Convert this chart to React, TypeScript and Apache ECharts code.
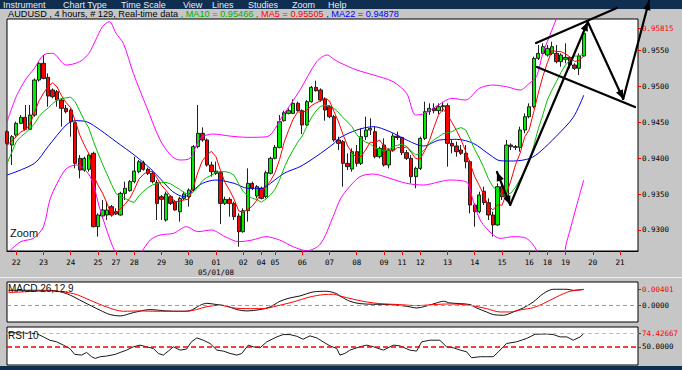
import React, { useEffect, useRef } from 'react';
import * as echarts from 'echarts';

// ---------- DATA ----------
// 4-hour candles: [open, close, low, high]
const candles: number[][] = [
  [0.94371, 0.94208, 0.94185, 0.94394], [0.94185, 0.94301, 0.93906, 0.94324], [0.94324, 0.94487, 0.94301, 0.9451], [0.94487, 0.94571, 0.94478, 0.94603],
  [0.94571, 0.94403, 0.94394, 0.94743], [0.94403, 0.94603, 0.94394, 0.94743], [0.94603, 0.95091, 0.9458, 0.95114], [0.95091, 0.95324, 0.95068, 0.95347],
  [0.95324, 0.95114, 0.95101, 0.9544], [0.95128, 0.94868, 0.94719, 0.95184], [0.94952, 0.94859, 0.94836, 0.94975], [0.94929, 0.94812, 0.94719, 0.94952],
  [0.94812, 0.94696, 0.94441, 0.94836], [0.94696, 0.9465, 0.94626, 0.94743], [0.94673, 0.9451, 0.94301, 0.94696], [0.94496, 0.93929, 0.93859, 0.9451],
  [0.93999, 0.93836, 0.9372, 0.94045], [0.93836, 0.93999, 0.93813, 0.94022], [0.93846, 0.94045, 0.93813, 0.94069], [0.94069, 0.93046, 0.93037, 0.94092],
  [0.93046, 0.93209, 0.92907, 0.93232], [0.93195, 0.93279, 0.93162, 0.93418], [0.93209, 0.93279, 0.93139, 0.93395], [0.93325, 0.93209, 0.93186, 0.93348],
  [0.93255, 0.93223, 0.93209, 0.93302], [0.93209, 0.93511, 0.932, 0.93534], [0.93511, 0.93581, 0.93418, 0.93674], [0.93548, 0.93674, 0.93534, 0.93697],
  [0.93674, 0.93822, 0.9365, 0.94022], [0.93813, 0.93952, 0.9379, 0.93976], [0.93939, 0.93846, 0.93827, 0.93966], [0.93846, 0.9379, 0.93767, 0.93869],
  [0.9379, 0.93674, 0.9365, 0.93813], [0.9366, 0.93371, 0.93139, 0.93697], [0.93464, 0.93427, 0.93139, 0.93488], [0.93139, 0.93502, 0.93116, 0.93534],
  [0.93464, 0.93371, 0.93348, 0.93488], [0.93395, 0.93279, 0.93269, 0.93418], [0.93255, 0.93441, 0.93116, 0.93464], [0.93441, 0.93502, 0.93418, 0.93534],
  [0.93464, 0.93557, 0.93325, 0.93581], [0.93557, 0.94162, 0.93534, 0.94185], [0.94162, 0.94348, 0.94138, 0.94743], [0.94348, 0.94255, 0.94231, 0.94431],
  [0.94255, 0.93906, 0.93883, 0.94278], [0.93906, 0.93813, 0.93743, 0.93952], [0.93822, 0.9379, 0.93767, 0.93952], [0.93799, 0.93371, 0.93083, 0.93813],
  [0.93371, 0.93427, 0.93348, 0.93464], [0.93427, 0.93371, 0.93186, 0.93455], [0.93371, 0.93186, 0.93139, 0.93395], [0.93195, 0.92976, 0.92767, 0.93232],
  [0.92976, 0.93269, 0.92962, 0.93302], [0.93269, 0.9365, 0.93116, 0.93859], [0.9365, 0.93581, 0.93557, 0.93674], [0.93474, 0.93604, 0.93441, 0.93627],
  [0.93581, 0.93441, 0.93427, 0.93604], [0.93464, 0.93799, 0.93441, 0.93827], [0.9379, 0.93999, 0.93776, 0.94022], [0.93999, 0.94152, 0.93985, 0.94185],
  [0.94152, 0.9451, 0.94138, 0.94603], [0.94524, 0.94636, 0.9451, 0.94664], [0.94626, 0.94664, 0.94612, 0.94696], [0.94626, 0.94766, 0.94617, 0.94822],
  [0.94766, 0.94664, 0.9465, 0.94789], [0.94664, 0.94464, 0.94338, 0.94682], [0.94464, 0.94789, 0.9445, 0.94812], [0.94789, 0.94989, 0.94775, 0.95008],
  [0.94989, 0.94942, 0.94929, 0.95082], [0.94952, 0.94812, 0.94789, 0.94975], [0.94822, 0.94673, 0.94524, 0.9485], [0.94719, 0.9458, 0.94557, 0.94743],
  [0.9458, 0.94255, 0.94231, 0.94603], [0.94255, 0.94208, 0.94115, 0.94301], [0.94231, 0.93929, 0.93604, 0.94255], [0.93929, 0.93883, 0.93836, 0.94069],
  [0.9385, 0.94092, 0.93813, 0.94138], [0.94092, 0.93929, 0.93883, 0.94185], [0.93929, 0.94301, 0.93906, 0.94417], [0.94301, 0.94394, 0.94255, 0.9458],
  [0.94394, 0.94417, 0.94324, 0.94557], [0.94371, 0.94022, 0.93999, 0.94441], [0.94022, 0.94138, 0.93999, 0.94162], [0.94185, 0.93906, 0.93883, 0.94278],
  [0.93906, 0.94115, 0.93859, 0.94138], [0.94115, 0.9431, 0.94092, 0.94348], [0.9431, 0.9429, 0.94255, 0.94371], [0.9429, 0.94078, 0.94045, 0.94301],
  [0.94078, 0.93999, 0.93976, 0.94115], [0.93999, 0.93743, 0.9365, 0.94045], [0.93743, 0.93859, 0.93581, 0.93883], [0.93859, 0.94278, 0.93836, 0.94301],
  [0.94278, 0.9465, 0.94255, 0.94789], [0.9465, 0.94696, 0.94603, 0.94766], [0.94696, 0.94664, 0.94626, 0.94766], [0.94664, 0.94719, 0.94617, 0.94766],
  [0.94719, 0.94733, 0.9465, 0.94789], [0.94733, 0.94208, 0.93883, 0.94766], [0.94208, 0.94171, 0.94069, 0.94255], [0.94171, 0.94092, 0.94022, 0.94231],
  [0.94115, 0.94069, 0.94045, 0.94185], [0.94069, 0.93952, 0.93859, 0.94185], [0.93952, 0.93348, 0.93232, 0.93976], [0.93348, 0.93255, 0.93046, 0.93371],
  [0.93255, 0.93488, 0.93232, 0.93534], [0.9354, 0.93381, 0.93348, 0.93604], [0.93381, 0.93209, 0.93139, 0.93441], [0.93209, 0.9307, 0.92907, 0.93255],
  [0.9307, 0.93604, 0.9306, 0.9365], [0.93604, 0.93464, 0.93418, 0.93674], [0.93464, 0.94185, 0.93441, 0.94255], [0.94185, 0.94162, 0.94115, 0.94208],
  [0.94162, 0.94152, 0.94115, 0.94185], [0.94152, 0.94394, 0.94092, 0.94441], [0.94394, 0.9458, 0.94348, 0.94626], [0.9458, 0.94719, 0.94557, 0.94766],
  [0.94719, 0.95393, 0.94696, 0.95417], [0.95393, 0.95463, 0.9537, 0.95579], [0.95463, 0.95556, 0.9544, 0.95603], [0.9544, 0.95533, 0.95417, 0.95579],
  [0.95463, 0.95556, 0.9544, 0.95626], [0.95463, 0.95347, 0.95324, 0.9558], [0.95347, 0.9544, 0.95277, 0.95463], [0.9538, 0.95407, 0.95324, 0.95603],
  [0.95407, 0.953, 0.95254, 0.95417], [0.953, 0.95254, 0.95231, 0.95324], [0.95254, 0.95426, 0.95161, 0.95463], [0.95426, 0.95742, 0.95417, 0.95788],
];

const ma5: number[] = [
  0.9418, 0.9424, 0.943, 0.9437, 0.94394, 0.94473, 0.94631, 0.94798, 0.94907, 0.95, 0.95051, 0.94995, 0.9487, 0.94777, 0.94705, 0.94519,
  0.94324, 0.94185, 0.94064, 0.93771, 0.93627, 0.93516, 0.93372, 0.93204, 0.9324, 0.933, 0.93361, 0.9344, 0.93562, 0.93708, 0.93775, 0.93817,
  0.93817, 0.93727, 0.93622, 0.93553, 0.93469, 0.9339, 0.93404, 0.93419, 0.9343, 0.93588, 0.93802, 0.93965, 0.94046, 0.94097, 0.94022, 0.93827,
  0.93661, 0.93554, 0.93429, 0.93266, 0.93246, 0.9329, 0.93332, 0.93416, 0.93509, 0.93615, 0.93685, 0.93799, 0.9398, 0.94219, 0.94392, 0.94546,
  0.94648, 0.94639, 0.94669, 0.94734, 0.9477, 0.94799, 0.94841, 0.94799, 0.94652, 0.94506, 0.94329, 0.94171, 0.94073, 0.94008, 0.94027, 0.9412,
  0.94227, 0.94213, 0.94254, 0.94175, 0.9412, 0.94098, 0.94152, 0.9414, 0.94158, 0.94084, 0.93994, 0.93991, 0.94106, 0.94245, 0.94429, 0.94601,
  0.94692, 0.94604, 0.94499, 0.94385, 0.94255, 0.94098, 0.93926, 0.93743, 0.93622, 0.93485, 0.93336, 0.93281, 0.9335, 0.93346, 0.93506, 0.93697,
  0.93913, 0.94071, 0.94295, 0.94401, 0.94648, 0.9491, 0.95142, 0.95333, 0.955, 0.95491, 0.95486, 0.95457, 0.9541, 0.9535, 0.95365, 0.95426,
];

const ma10: number[] = [
  0.9393, 0.9408, 0.9423, 0.943, 0.9435, 0.9441, 0.9448, 0.9458, 0.9465, 0.94697, 0.94762, 0.94813, 0.94834, 0.94842, 0.94853, 0.94785,
  0.9466, 0.94528, 0.94421, 0.94238, 0.94073, 0.9392, 0.93779, 0.93634, 0.93506, 0.93464, 0.93439, 0.93406, 0.93383, 0.93474, 0.93538, 0.93589,
  0.93629, 0.93645, 0.93665, 0.93664, 0.93643, 0.93604, 0.93566, 0.93521, 0.93492, 0.93529, 0.93596, 0.93685, 0.93733, 0.93764, 0.93805, 0.93815,
  0.93813, 0.938, 0.93763, 0.93644, 0.93537, 0.93476, 0.93443, 0.93423, 0.93388, 0.93431, 0.93488, 0.93566, 0.93698, 0.93864, 0.94004, 0.94116,
  0.94224, 0.9431, 0.94444, 0.94563, 0.94658, 0.94724, 0.9474, 0.94734, 0.94693, 0.94638, 0.94564, 0.94506, 0.94436, 0.9433, 0.94267, 0.94225,
  0.94199, 0.94143, 0.94131, 0.94101, 0.9412, 0.94163, 0.94183, 0.94197, 0.94167, 0.94102, 0.94046, 0.94072, 0.94123, 0.94202, 0.94257, 0.94298,
  0.94342, 0.94355, 0.94372, 0.94407, 0.94428, 0.94395, 0.94265, 0.94121, 0.94004, 0.9387, 0.93717, 0.93604, 0.93547, 0.93484, 0.93496, 0.93517,
  0.93597, 0.93711, 0.93821, 0.93954, 0.94173, 0.94412, 0.94607, 0.94814, 0.94951, 0.9507, 0.95198, 0.953, 0.95372, 0.95425, 0.95428, 0.95456,
];

// [bar index, value] pairs
const ma22: number[][] = [
  [0, 0.93767], [6, 0.93929], [9, 0.94162], [13, 0.94464], [15, 0.94524], [17.5, 0.9451], [20.5, 0.94394], [24, 0.94231], [28, 0.94045],
  [31.5, 0.93859], [34, 0.93697], [36.5, 0.93534], [39, 0.93464], [41, 0.93557], [43, 0.9365], [46, 0.93697], [50, 0.9365], [53, 0.93581],
  [56, 0.93581], [57, 0.93604], [61, 0.9379], [64.5, 0.93883], [68, 0.94022], [72, 0.94208], [73.3, 0.94287], [77, 0.94394], [80.7, 0.94441],
  [84.3, 0.94371], [88, 0.94255], [91.7, 0.94171], [95.3, 0.94255], [99, 0.94264], [102.7, 0.94208], [106.4, 0.94045], [108.6, 0.93966],
  [111.5, 0.93962], [115.2, 0.93999], [117.4, 0.94092], [121, 0.9431], [124.7, 0.94571], [127, 0.94878],
];
const bollUpper: number[][] = [
  [0, 0.9451], [2, 0.94859], [4, 0.95091], [6, 0.95254], [8, 0.9544], [10, 0.95463], [13, 0.953], [16, 0.95347], [18, 0.95463], [19.5, 0.95649],
  [21, 0.95835], [22.5, 0.95905], [24, 0.95742], [25.6, 0.95603], [27.8, 0.95184], [30.7, 0.94719], [33.7, 0.94255], [36, 0.94045], [38, 0.93976],
  [40.3, 0.93999], [42.5, 0.94278], [45.4, 0.94338], [49, 0.9431], [53, 0.94292], [57.2, 0.94301], [60.8, 0.94603], [64.5, 0.94952], [68.2, 0.95347],
  [70.5, 0.9544], [72, 0.95379], [73.3, 0.95333], [77, 0.95231], [80.7, 0.95161], [85, 0.95068], [88, 0.94905], [90, 0.94603], [92, 0.94626],
  [95, 0.94743], [98, 0.94836], [101, 0.94812], [104, 0.94975], [107, 0.95021], [110, 0.94998], [113, 0.94952], [115, 0.95045], [116.6, 0.95138],
  [118, 0.95463], [120, 0.95788], [122, 0.96114],
];
const bollLower: number[][] = [
  [0, 0.92674], [3, 0.92837], [5.8, 0.92883], [8, 0.93046], [9.4, 0.93418], [11, 0.9365], [13.1, 0.93859], [15.3, 0.93906], [18.3, 0.93743],
  [20.5, 0.93279], [22.7, 0.9286], [23.8, 0.92697], [25, 0.92581], [27, 0.92581], [29.3, 0.92674], [31.5, 0.9286], [33.7, 0.9293], [36.6, 0.92953],
  [39.5, 0.93046], [42, 0.92977], [45, 0.93], [48, 0.92907], [51, 0.92837], [54, 0.9286], [57, 0.92907], [60, 0.9286], [63, 0.92767], [66, 0.92711],
  [69, 0.92804], [71.8, 0.93186], [73.3, 0.93418], [74.8, 0.93557], [77.7, 0.93743], [80.7, 0.9378], [84.3, 0.9372], [88, 0.9365], [91.7, 0.93627],
  [95.3, 0.93674], [97.5, 0.93697], [100.5, 0.93683], [101.5, 0.9365], [102.7, 0.93395], [104.2, 0.93139], [105.6, 0.93023], [107.1, 0.9293],
  [108.6, 0.92883], [111.5, 0.92907], [114.4, 0.92883], [116.6, 0.92721], [118, 0.92442], [120, 0.92116], [122, 0.92302], [123, 0.92763],
  [124, 0.93], [125, 0.93237], [126, 0.93466], [127, 0.93697],
];
const macdLine: number[][] = [
  [0.3, 0.00377], [9.4, 0.00377], [13.1, 0.00295], [16.8, 0.0009], [20.5, -0.00115], [22.7, -0.00221], [24.9, -0.00254], [27.8, -0.00172],
  [31.5, -0.00098], [35.1, -0.00131], [38.1, -0.00139], [40.3, -0.00123], [42.5, 0.00008], [44, 0.00057], [46.2, 0.00025], [48.4, -0.00008],
  [50.6, -0.00098], [52.8, -0.00131], [55.7, -0.00098], [57.9, -0.00033], [60.1, 0.00107], [62.3, 0.00189], [64.5, 0.00238], [67.4, 0.00336],
  [70.4, 0.00353], [72.6, 0.00295], [73.3, 0.00238], [75.5, 0.00107], [77.7, 0.00049], [80.7, 0.00033], [84.3, 0.00025], [88, -0.00016],
  [90.2, -0.00057], [92.4, -0.00008], [94.6, 0.00066], [96.1, 0.00107], [97.5, 0.00066], [99.8, 0.00049], [102, 0.00025], [103.4, -0.00057],
  [105.6, -0.00156], [107.1, -0.00221], [109.3, -0.00238], [111.5, -0.00156], [113.7, -0.00057], [115.9, 0.0009], [118.1, 0.00295],
  [120.3, 0.00402], [123.3, 0.00402], [124.7, 0.00377], [127, 0.00401],
];
const macdSignal: number[][] = [
  [0.3, 0.0032], [9.4, 0.00361], [14.6, 0.00295], [18.3, 0.00131], [21.9, -0.00033], [25.6, -0.00139], [29.3, -0.00131], [32.9, -0.00139],
  [36.6, -0.00139], [39.5, -0.00139], [41.7, -0.00098], [44, -0.00025], [46.9, 0.00008], [49.8, -0.00057], [52.8, -0.00074], [56.4, -0.00074],
  [59.4, -0.00008], [63, 0.0009], [66.7, 0.00213], [69.7, 0.00271], [71.9, 0.00279], [73.3, 0.00238], [76.3, 0.00156], [79.2, 0.0009],
  [82.1, 0.00049], [86.5, 0.00025], [90.2, 0], [93.9, 0.00025], [97.5, 0.00041], [100.5, 0.00025], [102.7, -0.00008], [105.6, -0.00074],
  [108.6, -0.00156], [110.8, -0.00156], [113, -0.00107], [115.9, -0.00049], [118.1, 0.00049], [121, 0.00213], [124, 0.00353], [126.2, 0.00385],
  [127, 0.00395],
];
const rsiLine: number[][] = [
  [0.3, 76.3], [6.5, 74.4], [8, 68.3], [9.4, 62.2], [10.9, 59.2], [12.4, 53.1], [13.8, 46.9], [14.9, 36.0], [16.4, 34.7], [17.5, 39.6],
  [18.6, 31.7], [19.4, 28.6], [20.5, 31.7], [21.9, 32.9], [23.8, 36.0], [24.9, 39.6], [26.3, 43.9], [27.8, 50.0], [29.3, 53.1], [30.7, 50.0],
  [32.2, 46.9], [33.3, 37.8], [34.4, 34.7], [35.5, 42.1], [36.6, 50.0], [38.1, 43.9], [39.5, 45.7], [40.6, 59.2], [41.8, 66.5], [43.2, 62.2],
  [44.7, 56.1], [46.2, 43.9], [47.6, 42.1], [49.1, 37.8], [50.6, 34.7], [51.7, 37.8], [53.1, 53.1], [54.2, 50.0], [55.7, 48.2], [57.2, 59.2],
  [59.4, 68.3], [60.8, 72.6], [62.3, 72.6], [63.8, 69.5], [65.2, 64.0], [66.7, 70.2], [68.2, 66.5], [69.6, 59.2], [71.1, 51.8], [72.6, 46.9],
  [73.3, 34.7], [74.4, 37.8], [75.5, 43.9], [77.7, 50.0], [79.2, 53.1], [80.7, 50.0], [82.9, 43.9], [85.1, 53.1], [86.5, 51.8], [88.7, 43.9],
  [90.2, 42.1], [91.3, 59.2], [93.1, 62.2], [95.3, 62.2], [96.8, 50.0], [98.3, 48.2], [99.8, 43.9], [101.2, 40.8], [102.3, 29.8], [104.2, 31.7],
  [105.6, 31.7], [107.1, 31.7], [108.2, 40.8], [109.3, 50.0], [110, 56.1], [112.2, 59.2], [114.4, 65.3], [116.3, 73.2], [118.8, 73.8],
  [120.3, 72.6], [121.8, 68.3], [123.3, 68.3], [124.7, 62.2], [126.2, 68.3], [127, 74.4],
];

const dayLabels = ['22', '23', '24', '25', '27', '28', '29', '30', '01', '02', '04', '05', '06', '07', '08', '09', '11', '12', '13', '14', '15', '16', '18', '19', '20', '21'];
const dayStartIdx = [2, 8, 14, 20, 24, 28, 34, 40, 46, 52, 56, 59, 65, 71, 77, 83, 87, 91, 97, 103, 109, 115, 119, 123, 129, 135];
const monthLabel = '05/01/08';
const priceTicks = [0.93, 0.935, 0.94, 0.945, 0.95, 0.955];
const priceLevel = 0.95815;
const macdLevels = [0, 0.00401];
const macdTopLevel = 0.00443;
const rsiLevels = [50, 74.42667];

// drawn trend lines and arrows, as [bar index, price]
const wedgeLines: number[][][] = [
  [[116.5, 0.95607], [134.3, 0.96095]],
  [[116.7, 0.95273], [138.3, 0.94715]],
];
const arrowPath: number[][] = [
  [107.9, 0.93809], [110.8, 0.93349], [127.9, 0.959], [135.7, 0.94827], [141.4, 0.96193],
];

const menuItems = ['Instrument', 'Chart Type', 'Time Scale', 'View', 'Lines', 'Studies', 'Zoom', 'Help'];
const menuX = [3, 63, 121, 183, 212, 248, 292, 328];

// ---------- CHART ----------
const MONO = 'DejaVu Sans Mono';
const SANS = 'Liberation Sans';
const X_MIN = -0.03;
const X_MAX = 138.96;

function buildOption(): any {
  const gridBase = { left: 7, right: 44, show: true, backgroundColor: '#ffffff', borderColor: '#000000', borderWidth: 1 };
  const hiddenX = (g: number) => ({ type: 'value', gridIndex: g, min: X_MIN, max: X_MAX, show: false });
  const lbl = { fontFamily: MONO, fontSize: 7.5 };
  return {
    animation: false,
    backgroundColor: '#c6c6c6',
    grid: [
      { ...gridBase, top: 19, height: 232 },
      { ...gridBase, top: 282, height: 40 },
      { ...gridBase, top: 327, height: 38 },
    ],
    xAxis: [
      {
        type: 'value', gridIndex: 0, min: X_MIN, max: X_MAX,
        axisLine: { show: true, onZero: false, lineStyle: { color: '#000', width: 1 } },
        axisTick: { show: true, customValues: dayStartIdx, length: 4, inside: false, lineStyle: { color: '#ff0000' } },
        axisLabel: {
          show: true, customValues: dayStartIdx, margin: 6, color: '#000', ...lbl, lineHeight: 10,
          formatter: (v: number) => {
            const k = dayStartIdx.indexOf(Math.round(v));
            if (k < 0) return '';
            return dayLabels[k] === '01' ? '01\n' + monthLabel : dayLabels[k];
          },
        },
        splitLine: { show: false },
      },
      hiddenX(1),
      hiddenX(2),
    ],
    yAxis: [
      {
        type: 'value', gridIndex: 0, position: 'right', min: 0.92707, max: 0.95942,
        axisLine: { show: false, onZero: false },
        axisTick: { show: true, customValues: [...priceTicks, priceLevel], length: 3, lineStyle: { color: '#ff0000' } },
        axisLabel: {
          show: true, customValues: [...priceTicks, priceLevel], margin: 4, ...lbl,
          formatter: (v: number) => (Math.abs(v - priceLevel) < 1e-7 ? '{r|' + priceLevel.toFixed(5) + '}' : '{k|' + v.toFixed(4) + '}'),
          rich: { k: { color: '#000', ...lbl }, r: { color: '#ff0000', ...lbl } },
        },
        splitLine: { show: false },
      },
      {
        type: 'value', gridIndex: 1, position: 'right', min: -0.00403, max: 0.00581,
        axisLine: { show: false, onZero: false },
        axisTick: { show: true, customValues: macdLevels, length: 3, lineStyle: { color: '#ff0000' } },
        axisLabel: {
          show: true, customValues: macdLevels, margin: 4, ...lbl,
          formatter: (v: number) => (Math.abs(v) < 1e-9 ? '{k|0.0000}' : '{r|' + v.toFixed(5) + '}'),
          rich: { k: { color: '#000', ...lbl }, r: { color: '#ff0000', ...lbl } },
        },
        splitLine: { show: false },
      },
      {
        type: 'value', gridIndex: 2, position: 'right', min: 16.4, max: 86.6,
        axisLine: { show: false, onZero: false },
        axisTick: { show: true, customValues: rsiLevels, length: 3, lineStyle: { color: '#ff0000' } },
        axisLabel: {
          show: true, customValues: rsiLevels, margin: 4, ...lbl,
          formatter: (v: number) => (Math.abs(v - 50) < 1e-9 ? '{k|50.0000}' : '{r|' + v.toFixed(5) + '}'),
          rich: { k: { color: '#000', ...lbl }, r: { color: '#ff0000', ...lbl } },
        },
        splitLine: { show: false },
      },
    ],
    series: [
      {
        type: 'candlestick', xAxisIndex: 0, yAxisIndex: 0, barWidth: 3.8, clip: true,
        data: candles.map((c, i) => [i, c[0], c[1], c[2], c[3]]),
        itemStyle: { color: '#00ee00', color0: '#ff0000', borderColor: '#202020', borderColor0: '#202020', borderWidth: 1 },
        z: 2,
      },
      { type: 'line', name: 'upper', xAxisIndex: 0, yAxisIndex: 0, data: bollUpper, smooth: 0.3, showSymbol: false, clip: true, lineStyle: { color: '#ff00ff', width: 1 }, z: 3 },
      { type: 'line', name: 'lower', xAxisIndex: 0, yAxisIndex: 0, data: bollLower, smooth: 0.3, showSymbol: false, clip: true, lineStyle: { color: '#ff00ff', width: 1 }, z: 3 },
      { type: 'line', name: 'MA22', xAxisIndex: 0, yAxisIndex: 0, data: ma22, smooth: 0.3, showSymbol: false, clip: true, lineStyle: { color: '#0000e6', width: 1 }, z: 3 },
      { type: 'line', name: 'MA10', xAxisIndex: 0, yAxisIndex: 0, data: ma10.map((v, i) => [i, v]), showSymbol: false, clip: true, lineStyle: { color: '#00c000', width: 1 }, z: 3 },
      {
        type: 'line', name: 'MA5', xAxisIndex: 0, yAxisIndex: 0, data: ma5.map((v, i) => [i, v]), showSymbol: false, clip: true,
        lineStyle: { color: '#ff0000', width: 1 }, z: 3,
        markLine: {
          silent: true, symbol: ['none', 'none'], label: { show: false },
          lineStyle: { color: '#ff5a78', type: [4, 3], width: 1 },
          data: [{ yAxis: priceLevel }],
        },
      },
      {
        type: 'line', name: 'MACD', xAxisIndex: 1, yAxisIndex: 1, data: macdLine, smooth: 0.3, showSymbol: false,
        lineStyle: { color: '#111111', width: 1 }, z: 3,
        markLine: {
          silent: true, symbol: ['none', 'none'], label: { show: false },
          data: [
            { yAxis: macdTopLevel, lineStyle: { color: '#ff9aaa', type: [4, 3], width: 1 } },
            { yAxis: macdLevels[1], lineStyle: { color: '#ff4060', type: [4, 3], width: 1 } },
            { yAxis: macdLevels[0], lineStyle: { color: '#ff7088', type: [4, 3], width: 1 } },
          ],
        },
      },
      { type: 'line', name: 'Signal', xAxisIndex: 1, yAxisIndex: 1, data: macdSignal, smooth: 0.3, showSymbol: false, lineStyle: { color: '#ff0000', width: 1 }, z: 4 },
      {
        type: 'line', name: 'RSI', xAxisIndex: 2, yAxisIndex: 2, data: rsiLine, showSymbol: false,
        lineStyle: { color: '#1a1a1a', width: 1 }, z: 3,
        markLine: {
          silent: true, symbol: ['none', 'none'], label: { show: false },
          data: [
            { yAxis: rsiLevels[0], lineStyle: { color: '#ee0000', type: [5, 3], width: 1.6 } },
            { yAxis: rsiLevels[1], lineStyle: { color: '#ffa0b0', type: [4, 3], width: 1 } },
          ],
        },
      },
    ],
  };
}

function arrowHead(tip: number[], from: number[], L = 9, W = 3.8): number[][] {
  const dx = tip[0] - from[0];
  const dy = tip[1] - from[1];
  const len = Math.hypot(dx, dy) || 1;
  const ux = dx / len;
  const uy = dy / len;
  const bx = tip[0] - ux * L;
  const by = tip[1] - uy * L;
  return [[tip[0], tip[1]], [bx - uy * W, by + ux * W], [bx + uy * W, by - ux * W]];
}

export default function App() {
  const ref = useRef<HTMLDivElement>(null);
  useEffect(() => {
    if (!ref.current) return;
    const chart = echarts.init(ref.current, null, { renderer: 'svg' });
    chart.setOption(buildOption());

    const toPx = (p: number[]) => [
      chart.convertToPixel({ xAxisIndex: 0 } as any, p[0]) as unknown as number,
      chart.convertToPixel({ yAxisIndex: 0 } as any, p[1]) as unknown as number,
    ];

    const overlay: any[] = [];
    const lineStyle = { stroke: '#000000', lineWidth: 2.2, lineCap: 'round' };
    wedgeLines.forEach((seg) => {
      const a = toPx(seg[0]);
      const b = toPx(seg[1]);
      overlay.push({ type: 'line', z: 100, shape: { x1: a[0], y1: a[1], x2: b[0], y2: b[1] }, style: lineStyle });
    });
    const pts = arrowPath.map(toPx);
    for (let k = 0; k < pts.length - 1; k++) {
      const a = pts[k];
      const b = pts[k + 1];
      overlay.push({ type: 'line', z: 100, shape: { x1: a[0], y1: a[1], x2: b[0], y2: b[1] }, style: lineStyle });
      overlay.push({ type: 'polygon', z: 101, shape: { points: arrowHead(b, a) }, style: { fill: '#000000' } });
    }
    overlay.push({ type: 'polygon', z: 101, shape: { points: arrowHead(pts[0], pts[1]) }, style: { fill: '#000000' } });

    const statics: any[] = [
      { type: 'rect', z: 50, shape: { x: 0, y: 0, width: 682, height: 9 }, style: { fill: '#0f2e50' } },
      { type: 'rect', z: 50, shape: { x: 0, y: 366, width: 682, height: 4 }, style: { fill: '#0f2e50' } },
      { type: 'rect', z: 50, shape: { x: 0, y: 277, width: 682, height: 1 }, style: { fill: '#efefef' } },
      ...menuItems.map((t, i) => ({
        type: 'text', z: 60, x: menuX[i], y: 4.5,
        style: { text: t, fill: '#e6edf5', fontSize: 9, fontFamily: SANS, align: 'left', verticalAlign: 'middle', textAlign: 'left', textVerticalAlign: 'middle' },
      })),
      {
        type: 'text', z: 60, x: 8, y: 13.5,
        style: {
          text: '{k|AUDUSD , 4 hours, # 129, Real-time data }{g|, MA10 = 0.95466 }{r|, MA5 = 0.95505 }{b|, MA22 = 0.94878}',
          fontSize: 9.2, fontFamily: SANS, align: 'left', verticalAlign: 'middle', textAlign: 'left', textVerticalAlign: 'middle',
          rich: {
            k: { fill: '#000000', fontSize: 9.2, fontFamily: SANS },
            g: { fill: '#00b000', fontSize: 9.2, fontFamily: SANS },
            r: { fill: '#ff0000', fontSize: 9.2, fontFamily: SANS },
            b: { fill: '#0000ff', fontSize: 9.2, fontFamily: SANS },
          },
        },
      },
      {
        type: 'text', z: 60, x: 10, y: 233,
        style: { text: 'Zoom', fill: '#111111', fontSize: 11, fontFamily: SANS, align: 'left', verticalAlign: 'middle', textAlign: 'left', textVerticalAlign: 'middle' },
      },
      {
        type: 'text', z: 60, x: 8, y: 288,
        style: { text: 'MACD 26,12,9', fill: '#111111', fontSize: 10, fontFamily: SANS, align: 'left', verticalAlign: 'middle', textAlign: 'left', textVerticalAlign: 'middle' },
      },
      {
        type: 'text', z: 60, x: 8, y: 335,
        style: { text: 'RSI 10', fill: '#111111', fontSize: 10, fontFamily: SANS, align: 'left', verticalAlign: 'middle', textAlign: 'left', textVerticalAlign: 'middle' },
      },
    ];

    chart.setOption({ graphic: [...statics, ...overlay] });
    return () => chart.dispose();
  }, []);

  return <div ref={ref} style={{ position: 'fixed', left: 0, top: 0, width: 682, height: 370 }} />;
}
